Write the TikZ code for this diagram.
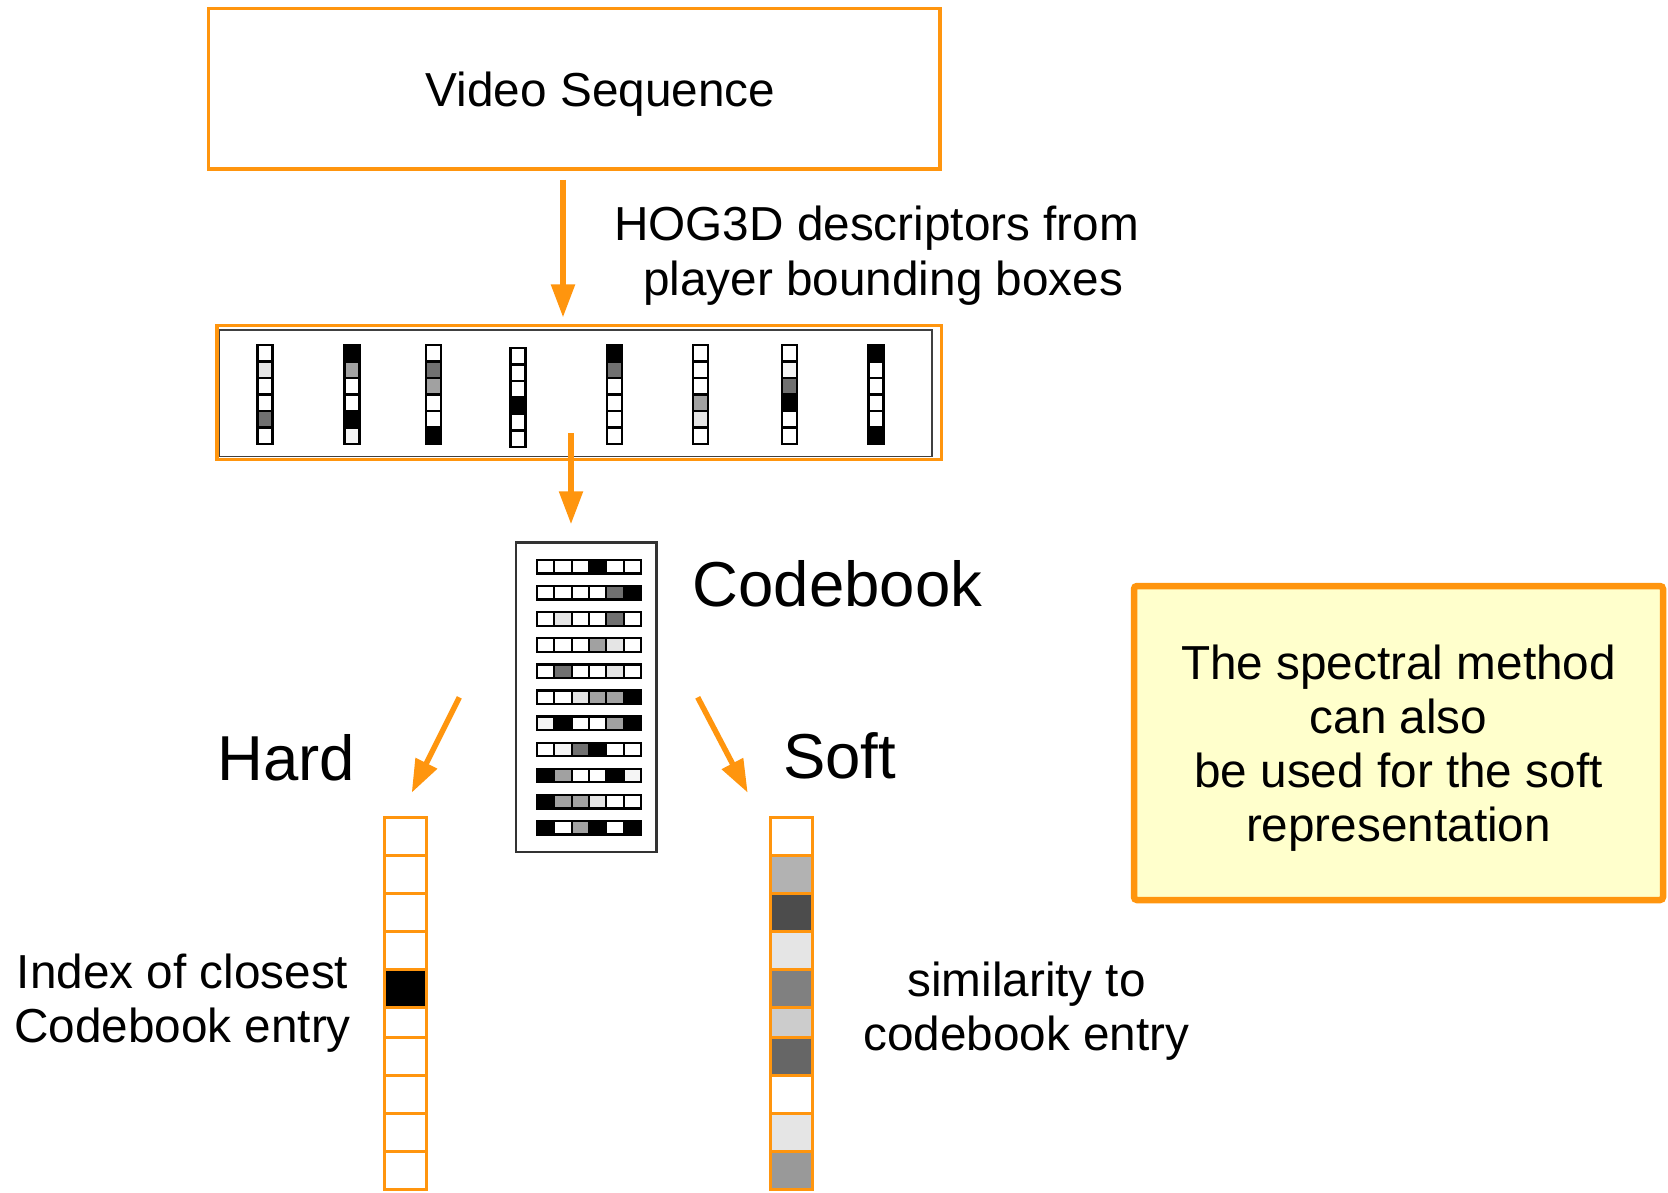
\documentclass[tikz,border=0pt]{standalone}
\usepackage{fontspec}
\setmainfont{Liberation Sans}
\usetikzlibrary{arrows.meta}
\definecolor{orng}{HTML}{FF950E}
\definecolor{notefill}{HTML}{FFFFCC}
\begin{document}
\begin{tikzpicture}[x=1pt,y=-1pt,
  txt/.style={inner sep=0pt, font=\fontsize{47.7pt}{54pt}\selectfont, align=center},
  big/.style={inner sep=0pt, font=\fontsize{63.5pt}{70pt}\selectfont},
  flow/.style={draw=orng, line width=5.5pt, -{Triangle[length=33pt,width=23pt]}},
  frame/.style={draw=orng, line width=3.5pt, inner sep=0pt},
  desccell/.style={draw=black, line width=2.4pt},
  cbcell/.style={draw=black, line width=2.3pt},
  veccell/.style={draw=orng, line width=3pt},
]
\useasboundingbox (0,0) rectangle (1668,1192);

% video sequence box
\node[frame, minimum width=731.5pt, minimum height=160.5pt] (video) at (574.25,88.75) {};
\node[txt, anchor=base] (videolabel) at (600.5,106) {Video Sequence};

% descriptor strip
\draw[black!75, line width=1.8pt] (219,330) rectangle (932,456.5);
\node[frame, line width=3.2pt, minimum width=724.5pt, minimum height=134pt] (strip) at (579.25,392.5) {};
\foreach \cx/\ty/\vals in {265/345/{0,10,0,0,56,0}, 352/345/{100,37,0,0,100,4},
    433.5/345/{0,56,37,0,0,100}, 518/348/{0,0,0,100,0,0}, 614.5/345/{100,56,0,0,0,0},
    700.5/345/{0,0,0,37,10,0}, 789.5/345/{0,4,56,100,0,0}, 876/345/{100,0,0,0,0,100}}
  \foreach \v [count=\ri] in \vals
    \draw[desccell, fill=black!\v] (\cx-7.5,\ty+\ri*16.5-16.5) rectangle (\cx+7.5,\ty+\ri*16.5);

\node[txt] (hoglabel) at (876.6,255.5) {HOG3D descriptors from\\[1.3pt]\hspace*{0.278em}player bounding boxes};

% codebook
\node[draw=black!80, line width=2.5pt, minimum width=140.5pt, minimum height=309.5pt, inner sep=0pt] (codebook) at (586.25,697.25) {};
\foreach \vals [count=\ri] in {{0,0,0,100,0,0},{0,0,0,0,56,100},{0,10,0,0,56,0},
    {0,0,0,37,10,0},{0,56,0,0,10,0},{0,0,10,37,37,100},{4,100,0,0,37,100},
    {0,4,56,100,0,0},{100,37,0,0,100,4},{100,37,37,10,0,0},{100,0,37,100,0,100}}
  \foreach \v [count=\ki] in \vals
    \draw[cbcell, fill=black!\v] (537+\ki*17.33-17.33,560+\ri*26.1-26.1) rectangle +(17.33,13.5);
\node[big, anchor=base west] (cblabel) at (692.5,606) {Codebook};

% hard and soft assignment vectors
\foreach \ya/\yb/\h/\s in {817.3/855.7/0/0, 855.7/893.7/0/30, 893.7/931.7/0/70,
    931.7/969.3/0/10, 969.3/1007.3/100/50, 1007.3/1037.7/0/20, 1037.7/1075.7/0/60,
    1075.7/1113.3/0/0, 1113.3/1151.3/0/10, 1151.3/1189.3/0/40}
{
  \draw[veccell, fill=black!\h] (384,\ya) rectangle (426.7,\yb);
  \draw[veccell, fill=black!\s] (770,\ya) rectangle (812.7,\yb);
}
\coordinate (hardfrom) at (459.3,697.3);
\coordinate (hardto) at (411.7,792.7);
\coordinate (softfrom) at (697.7,697.3);
\coordinate (softto) at (747.7,792.7);
\coordinate (cbfrom) at (571,433);

\node[big, anchor=base west] (hardlabel) at (217,780) {Hard};
\node[big, anchor=base west] (softlabel) at (783,778) {Soft};
\node[txt] (hardnote) at (182.5,1002.75) {Index of closest\\Codebook entry};
\node[txt] (softnote) at (1026.5,1011.5) {similarity to\\codebook entry};

% note box
\node[draw=orng, fill=notefill, line width=6.5pt, rounded corners=3pt, minimum width=529pt, minimum height=314pt, inner sep=0pt] (note) at (1398.5,743) {};
\node[txt] (notetext) at (1398.5,748) {The spectral method\\can also\\be used for the soft\\representation};

% flow arrows
\draw[flow, shorten <=9pt, shorten >=6.5pt] ([xshift=-11.25pt]video.south) -- ([xshift=-11.25pt]video.south |- strip.north);
\draw[flow, shorten >=17pt] (cbfrom) -- (cbfrom |- codebook.north);
\draw[flow] (hardfrom) -- (hardto);
\draw[flow] (softfrom) -- (softto);
\end{tikzpicture}
\end{document}
